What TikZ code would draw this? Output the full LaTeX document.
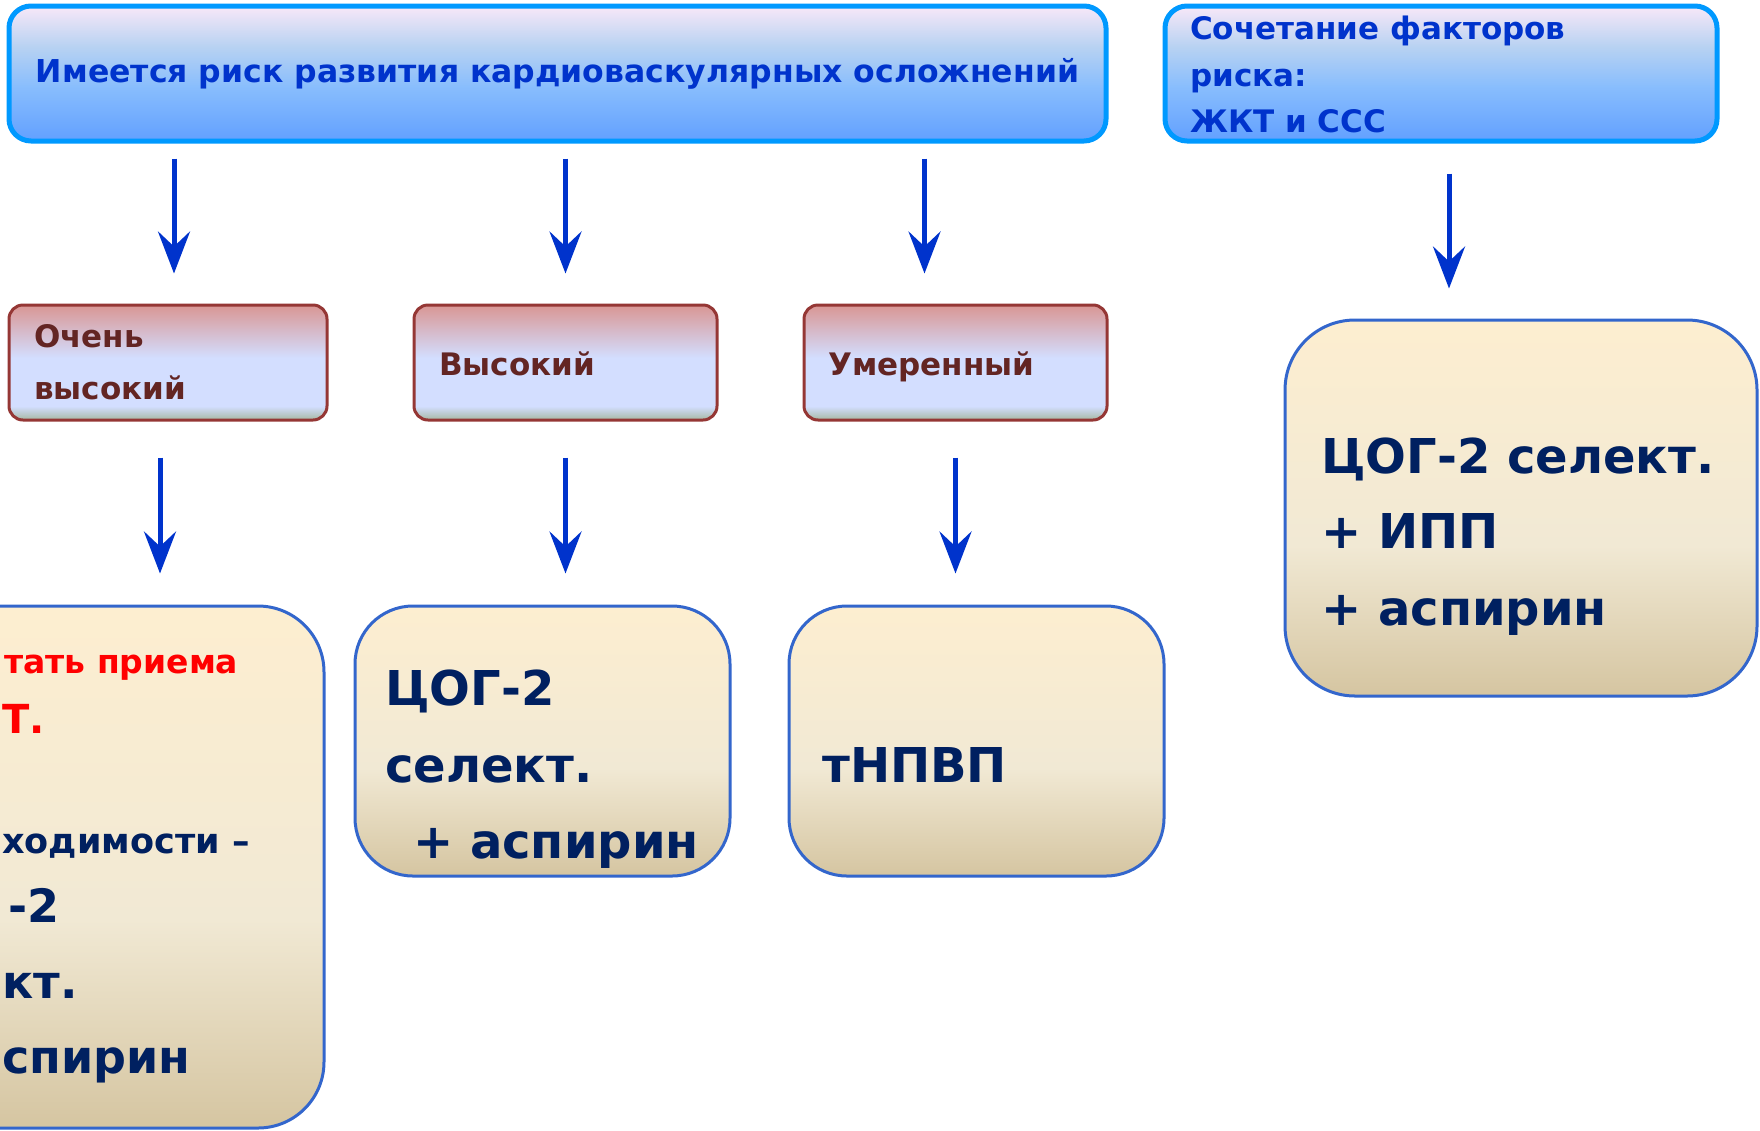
\documentclass[tikz,border=0pt]{standalone}
\usepackage{fontspec}
\setmainfont{DejaVu Sans}
\usetikzlibrary{arrows.meta}
\definecolor{skyedge}{HTML}{0099FF}
\definecolor{skyink}{HTML}{0033CC}
\definecolor{skyt}{HTML}{F8E8F8}
\definecolor{skyl}{HTML}{B8D2F2}
\definecolor{skym}{HTML}{88BDFD}
\definecolor{skyb}{HTML}{62A0FF}
\definecolor{rankedge}{HTML}{953735}
\definecolor{rankink}{HTML}{632523}
\definecolor{rankt}{HTML}{D99694}
\definecolor{rankm}{HTML}{D3DEFF}
\definecolor{rankb}{HTML}{A6B8A2}
\definecolor{drugedge}{HTML}{3366CC}
\definecolor{drugink}{HTML}{002060}
\definecolor{drugt}{HTML}{FDEED0}
\definecolor{drugm}{HTML}{F1E9D4}
\definecolor{drugb}{HTML}{D5C5A1}
\colorlet{arrowblue}{skyink}
\pgfdeclareverticalshading{skyfill}{100bp}{color(0bp)=(skyb); color(25bp)=(skyb); color(45bp)=(skym); color(60bp)=(skyl); color(75bp)=(skyt); color(100bp)=(skyt)}
\pgfdeclareverticalshading{rankfill}{100bp}{color(0bp)=(rankb); color(25bp)=(rankb); color(31bp)=(rankm); color(52bp)=(rankm); color(75bp)=(rankt); color(100bp)=(rankt)}
\pgfdeclareverticalshading{drugfill}{100bp}{color(0bp)=(drugb); color(25bp)=(drugb); color(45bp)=(drugm); color(75bp)=(drugt); color(100bp)=(drugt)}

\begin{document}
\begin{tikzpicture}[x=1pt,y=-1pt,
    skybox/.style={draw=skyedge,line width=5pt,rounded corners=22pt,shading=skyfill,inner sep=0pt},
    rankbox/.style={draw=rankedge,line width=3pt,rounded corners=14pt,shading=rankfill,minimum width=303pt,minimum height=115pt},
    drugbox/.style={draw=drugedge,line width=3pt,rounded corners=58pt,shading=drugfill},
    skytext/.style={font=\fontsize{31}{37}\selectfont\bfseries,text=skyink,inner sep=0pt,anchor=base west},
    ranktext/.style={font=\fontsize{31}{37}\selectfont\bfseries,text=rankink,inner sep=0pt,anchor=base west},
    drugtext/.style={font=\fontsize{48}{56}\selectfont\bfseries,text=drugink,inner sep=0pt,anchor=base west},
    cuttext/.style={font=\fontsize{46}{54}\selectfont\bfseries,text=drugink,inner sep=0pt,anchor=base west},
    arr/.style={draw=arrowblue,line width=5pt,-{Stealth[length=42pt,width=32pt,inset=15pt]}}]
        \useasboundingbox (0,0) rectangle (1760,1130);
        % risk headers
        \node[skybox,minimum width=1097pt,minimum height=135pt,font=\fontsize{31.5}{37}\selectfont\bfseries,text=skyink] (risk) at (557.5,73.5) {Имеется риск развития кардиоваскулярных осложнений};
        \node[skybox,minimum width=552pt,minimum height=135pt] (combo) at (1441,73.5) {};
        \node[skytext] (combo1) at (1190,39) {Сочетание факторов};
        \node[skytext] (combo2) at (1190,86) {риска:};
        \node[skytext] (combo3) at (1190,132) {ЖКТ и ССС};
        % risk levels
        \node[rankbox,minimum width=318pt] (veryhigh) at (168,362.5) {};
        \node[rankbox] (high) at (565.5,362.5) {};
        \node[rankbox] (moderate) at (955.5,362.5) {};
        \node[ranktext] (veryhigh1) at (34,347) {Очень};
        \node[ranktext] (veryhigh2) at (34,399) {высокий};
        \node[ranktext] (high1) at (439,375) {Высокий};
        \node[ranktext] (moderate1) at (828,375) {Умеренный};
        % therapy
        \node[drugbox,minimum width=524pt,minimum height=522pt,rounded corners=66pt] (avoid) at (62,867) {};
        \node[drugbox,minimum width=375pt,minimum height=270pt] (cox) at (542.5,741) {};
        \node[drugbox,minimum width=375pt,minimum height=270pt] (nsaid) at (976.5,741) {};
        \node[drugbox,minimum width=472pt,minimum height=376pt,rounded corners=70pt] (triple) at (1521,508) {};
        \node[cuttext,font=\fontsize{33}{39}\selectfont\bfseries,text=red] (avoid1) at (4,673) {тать приема};
        \node[cuttext,font=\fontsize{40}{46}\selectfont\bfseries,text=red] (avoid2) at (2,733) {Т.};
        \node[cuttext,font=\fontsize{35}{41}\selectfont\bfseries] (avoid3) at (2,853) {ходимости –};
        \node[cuttext] (avoid4) at (8,922) {-2};
        \node[cuttext] (avoid5) at (2,998) {кт.};
        \node[cuttext] (avoid6) at (2,1073) {спирин};
        \node[drugtext] (cox1) at (385,705) {ЦОГ-2};
        \node[drugtext] (cox2) at (385,782) {селект.};
        \node[drugtext] (cox3) at (413,858) {+ аспирин};
        \node[drugtext] (nsaid1) at (822,782) {тНПВП};
        \node[drugtext] (triple1) at (1321,473) {ЦОГ-2 селект.};
        \node[drugtext] (triple2) at (1321,548) {+ ИПП};
        \node[drugtext] (triple3) at (1321,625) {+ аспирин};
        % arrows
        \draw[arr,shorten <=15pt,shorten >=30pt] ([xshift=6pt]risk.south -| veryhigh.north) -- ([xshift=6pt]veryhigh.north);
        \draw[arr,shorten <=15pt,shorten >=30pt] (risk.south -| high.north) -- (high.north);
        \draw[arr,shorten <=15pt,shorten >=30pt] ([xshift=-31pt]risk.south -| moderate.north) -- ([xshift=-31pt]moderate.north);
        \draw[arr,shorten <=30pt,shorten >=30pt] ([xshift=8pt]combo.south) -- ([xshift=8pt]combo.south |- triple.north);
        \draw[arr,shorten <=36pt,shorten >=31pt] ([xshift=-8pt]veryhigh.south) -- ([xshift=-8pt]veryhigh.south |- avoid.north);
        \draw[arr,shorten <=36pt,shorten >=31pt] (high.south) -- (high.south |- cox.north);
        \draw[arr,shorten <=36pt,shorten >=31pt] (moderate.south) -- (moderate.south |- nsaid.north);
    \end{tikzpicture}
\end{document}
